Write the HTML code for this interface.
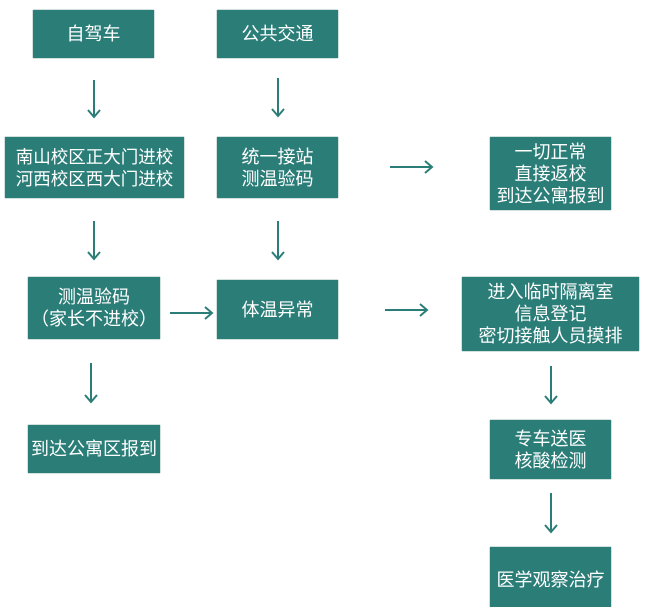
<!DOCTYPE html>
<html><head><meta charset="utf-8"><style>
body{margin:0;width:652px;height:592px;background:#fff;position:relative;overflow:hidden;font-family:"Liberation Sans","Noto Sans CJK SC",sans-serif}
.b{position:absolute;background:#2b7d78;color:#fff;display:flex;align-items:center;justify-content:center;text-align:center;font-size:18px;line-height:22px;box-shadow:0 0 1px #1d5f5b;white-space:nowrap}
svg{position:absolute;left:0;top:0}
</style></head><body>
<div class="b" style="left:33px;top:10px;width:121px;height:48px">自驾车</div>
<div class="b" style="left:217px;top:10px;width:121px;height:48px">公共交通</div>
<div class="b" style="left:5px;top:137px;width:179px;height:61px;font-size:17.5px">南山校区正大门进校<br>河西校区西大门进校</div>
<div class="b" style="left:217px;top:137px;width:121px;height:61px">统一接站<br>测温验码</div>
<div class="b" style="left:490px;top:137px;width:121px;height:73px">一切正常<br>直接返校<br>到达公寓报到</div>
<div class="b" style="left:28px;top:277px;width:132px;height:62px">测温验码<br>（家长不进校）</div>
<div class="b" style="left:217px;top:280px;width:121px;height:59px">体温异常</div>
<div class="b" style="left:462px;top:277px;width:177px;height:74px">进入临时隔离室<br>信息登记<br>密切接触人员摸排</div>
<div class="b" style="left:28px;top:425px;width:132px;height:48px">到达公寓区报到</div>
<div class="b" style="left:490px;top:420px;width:121px;height:59px">专车送医<br>核酸检测</div>
<div class="b" style="left:490px;top:547px;width:121px;height:60px;padding-top:6px;box-sizing:border-box">医学观察治疗</div>
<svg width="652" height="592" fill="none" stroke="#2b7d78" stroke-width="2">
<path d="M94 80V117M88 110L94 117L100 110"/>
<path d="M278 78V116M272 109L278 116L284 109"/>
<path d="M94 221V259M88 252L94 259L100 252"/>
<path d="M278 221V259M272 252L278 259L284 252"/>
<path d="M91 363V402M85 395L91 402L97 395"/>
<path d="M551 366V403M545 396L551 403L557 396"/>
<path d="M551 493V532M545 525L551 532L557 525"/>
<path d="M390 167H432M425 161L432 167L425 173"/>
<path d="M170 313H212M205 307L212 313L205 319"/>
<path d="M385 310H427M420 304L427 310L420 316"/>
</svg>
</body></html>
